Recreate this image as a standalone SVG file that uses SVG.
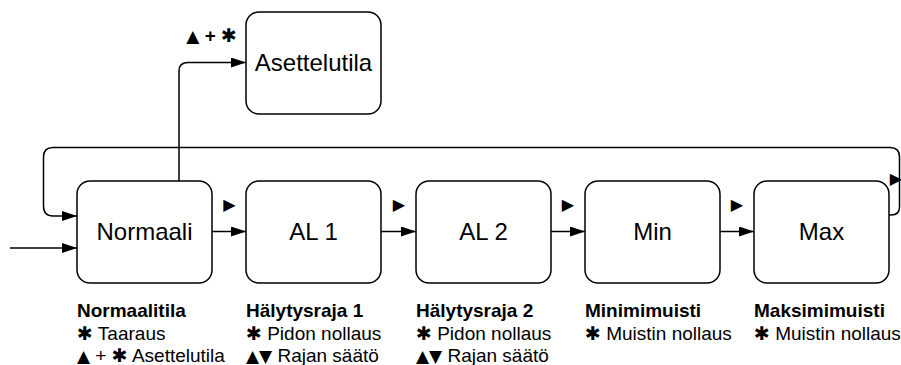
<svg xmlns="http://www.w3.org/2000/svg" width="901" height="365" viewBox="0 0 901 365">
<defs>
<style>
.box{fill:#fff;stroke:#000;stroke-width:1.5}
.bt{font-family:"Liberation Sans",Arial,sans-serif;font-size:24px;fill:#000;text-anchor:middle}
.ln{fill:none;stroke:#000;stroke-width:1.5}
.lab{font-family:"Liberation Sans",Arial,sans-serif;font-size:19px;fill:#000}
.b{font-weight:bold}
.sym{font-family:"DejaVu Sans",sans-serif;font-size:17px}
.ast{font-family:"DejaVu Sans",sans-serif;font-size:19px}
.tri{font-family:"DejaVu Sans",sans-serif;font-size:16px;fill:#000;text-anchor:middle}
</style>
<marker id="ah" markerUnits="userSpaceOnUse" markerWidth="15" markerHeight="10" refX="15" refY="5" orient="auto">
<path d="M0,0 L15,5 L0,10 Z" fill="#000"/>
</marker>
</defs>
<g id="connectors">
<path class="ln" marker-end="url(#ah)" d="M10,248 H77"/>
<path class="ln" marker-end="url(#ah)" d="M212,231.5 H246"/>
<path class="ln" marker-end="url(#ah)" d="M381,231.5 H416"/>
<path class="ln" marker-end="url(#ah)" d="M551,231.5 H585"/>
<path class="ln" marker-end="url(#ah)" d="M720,231.5 H754"/>
<path class="ln" marker-end="url(#ah)" d="M889,215 H891 Q899.5,215 899.5,207 V157 Q899.5,147.5 890,147.5 H53 Q43.5,147.5 43.5,157 V206 Q43.5,216 53,216 H77"/>
<path class="ln" marker-end="url(#ah)" d="M179,181 V71 Q179,62.5 188,62.5 H246"/>
<text class="tri" x="229.5" y="210">▶</text>
<text class="tri" x="399" y="210">▶</text>
<text class="tri" x="568" y="210">▶</text>
<text class="tri" x="737" y="210">▶</text>
<text class="tri" x="896" y="184">▶</text>
<text class="lab b" x="237" y="42" text-anchor="end"><tspan class="sym">▲</tspan> + <tspan class="ast">✱</tspan></text>
</g>
<g id="asettelutila">
<rect class="box" x="246" y="12" width="135" height="102" rx="13"/>
<text class="bt" x="313.5" y="71">Asettelutila</text>
</g>
<g id="normaali">
<rect class="box" x="77" y="181" width="135" height="102" rx="13"/>
<text class="bt" x="144.5" y="240">Normaali</text>
<text class="lab" x="77" y="317"><tspan class="b">Normaalitila</tspan><tspan x="77" dy="22.5"><tspan class="ast">✱</tspan> Taaraus</tspan><tspan x="77" dy="22.5"><tspan class="sym">▲</tspan> + <tspan class="ast">✱</tspan> Asettelutila</tspan></text>
</g>
<g id="al1">
<rect class="box" x="246" y="181" width="135" height="102" rx="13"/>
<text class="bt" x="313.5" y="240">AL 1</text>
<text class="lab" x="246" y="317"><tspan class="b">Hälytysraja 1</tspan><tspan x="246" dy="22.5"><tspan class="ast">✱</tspan> Pidon nollaus</tspan><tspan x="246" dy="22.5"><tspan class="sym">▲▼</tspan> Rajan säätö</tspan></text>
</g>
<g id="al2">
<rect class="box" x="416" y="181" width="135" height="102" rx="13"/>
<text class="bt" x="483.5" y="240">AL 2</text>
<text class="lab" x="416" y="317"><tspan class="b">Hälytysraja 2</tspan><tspan x="416" dy="22.5"><tspan class="ast">✱</tspan> Pidon nollaus</tspan><tspan x="416" dy="22.5"><tspan class="sym">▲▼</tspan> Rajan säätö</tspan></text>
</g>
<g id="min">
<rect class="box" x="585" y="181" width="135" height="102" rx="13"/>
<text class="bt" x="652.5" y="240">Min</text>
<text class="lab" x="585" y="317"><tspan class="b">Minimimuisti</tspan><tspan x="585" dy="22.5"><tspan class="ast">✱</tspan> Muistin nollaus</tspan></text>
</g>
<g id="max">
<rect class="box" x="754" y="181" width="135" height="102" rx="13"/>
<text class="bt" x="821.5" y="240">Max</text>
<text class="lab" x="754" y="317"><tspan class="b">Maksimimuisti</tspan><tspan x="754" dy="22.5"><tspan class="ast">✱</tspan> Muistin nollaus</tspan></text>
</g>
</svg>
